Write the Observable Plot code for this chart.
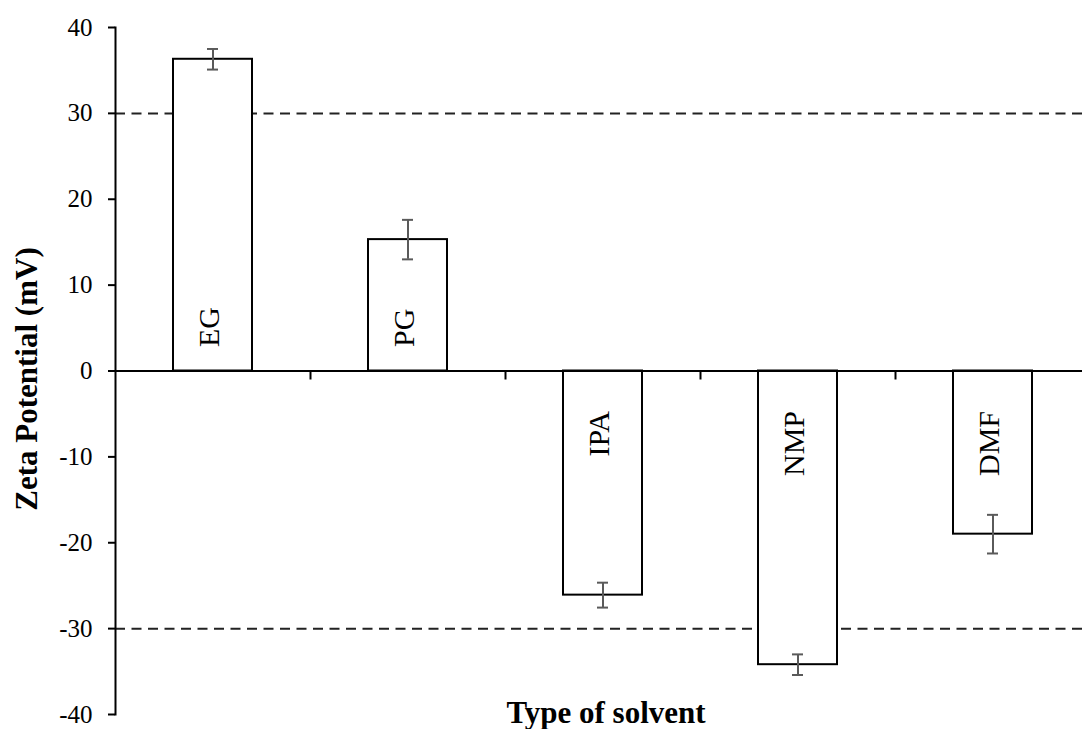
<!DOCTYPE html>
<html>
<head>
<meta charset="utf-8">
<script src="https://cdn.jsdelivr.net/npm/d3@7"></script>
<script src="https://cdn.jsdelivr.net/npm/@observablehq/plot@0.6"></script>
<style>
  html, body { margin: 0; padding: 0; background: #fff; overflow: hidden; }
</style>
</head>
<body>
<div id="chart"></div>
<script>
// ---- data ----
const categories = ["EG", "PG", "IPA", "NMP", "DMF"];
const zetaValues = [36.3, 15.3, -26.1, -34.2, -19.0];
const zetaErrors = [1.2, 2.3, 1.45, 1.2, 2.25];
const thresholds = [30, -30];
const yTicks = [-40, -30, -20, -10, 0, 10, 20, 30, 40];
const yLabel = "Zeta Potential (mV)";
const xLabel = "Type of solvent";

const rows = categories.map((c, i) => ({name: c, value: zetaValues[i], err: zetaErrors[i]}));
const positives = rows.filter(d => d.value >= 0);
const negatives = rows.filter(d => d.value < 0);

// ---- layout ----
const W = 1082, H = 729;
const left = 115;
const xRange = [left, 1090];
const step = (xRange[1] - xRange[0]) / categories.length;
const serif = "'Liberation Serif', 'Times New Roman', Times, serif";

const chart = Plot.plot({
  width: W,
  height: H,
  marginLeft: left,
  marginRight: 0,
  marginTop: 27,
  marginBottom: 15,
  style: {fontFamily: serif, fontSize: "25px", color: "#000", background: "#fff", overflow: "visible"},
  x: {domain: categories, range: xRange, paddingInner: 0.595, paddingOuter: 0.2975, axis: null},
  y: {domain: [-40, 40], axis: null},
  marks: [
    Plot.ruleY(thresholds, {stroke: "#222", strokeWidth: 2, strokeDasharray: "10,6.5"}),
    Plot.barY(rows, {x: "name", y: "value", fill: "#fff", stroke: "#000", strokeWidth: 2}),
    Plot.ruleX(rows, {x: "name", y1: d => d.value - d.err, y2: d => d.value + d.err, stroke: "#5a5a5a", strokeWidth: 2}),
    Plot.tickY(rows, {x: "name", y: d => d.value + d.err, stroke: "#5a5a5a", strokeWidth: 2, insetLeft: 34, insetRight: 34}),
    Plot.tickY(rows, {x: "name", y: d => d.value - d.err, stroke: "#5a5a5a", strokeWidth: 2, insetLeft: 34, insetRight: 34}),
    Plot.ruleY([0], {stroke: "#000", strokeWidth: 2}),
    Plot.ruleX(categories, {x: d => d, y1: 0, y2: 0, insetBottom: -9, dx: step / 2, stroke: "#000", strokeWidth: 2}),
    Plot.frame({anchor: "left", stroke: "#000", strokeWidth: 2}),
    Plot.axisY({ticks: yTicks, tickSize: 7, tickPadding: 16, tickFormat: d => String(d), fontSize: 25, label: null, stroke: "#000", strokeWidth: 2}),
    Plot.text(positives, {x: "name", y: 0, text: "name", rotate: -90, textAnchor: "start", lineAnchor: "middle", dy: -24, dx: -4, fontSize: 30, fill: "#000"}),
    Plot.text(negatives, {x: "name", y: 0, text: "name", rotate: -90, textAnchor: "end", lineAnchor: "middle", dy: 40, dx: -4, fontSize: 30, fill: "#000"}),
    Plot.text([yLabel], {frameAnchor: "left", text: d => d, rotate: -90, textAnchor: "middle", dx: -88, dy: 8, fontSize: 31, fontWeight: "bold", fill: "#000", lineAnchor: "middle"}),
    Plot.text([xLabel], {frameAnchor: "bottom", text: d => d, textAnchor: "middle", dx: 7, dy: -1, fontSize: 31, fontWeight: "bold", fill: "#000", lineAnchor: "middle"})
  ]
});
document.getElementById("chart").appendChild(chart);
</script>
</body>
</html>
